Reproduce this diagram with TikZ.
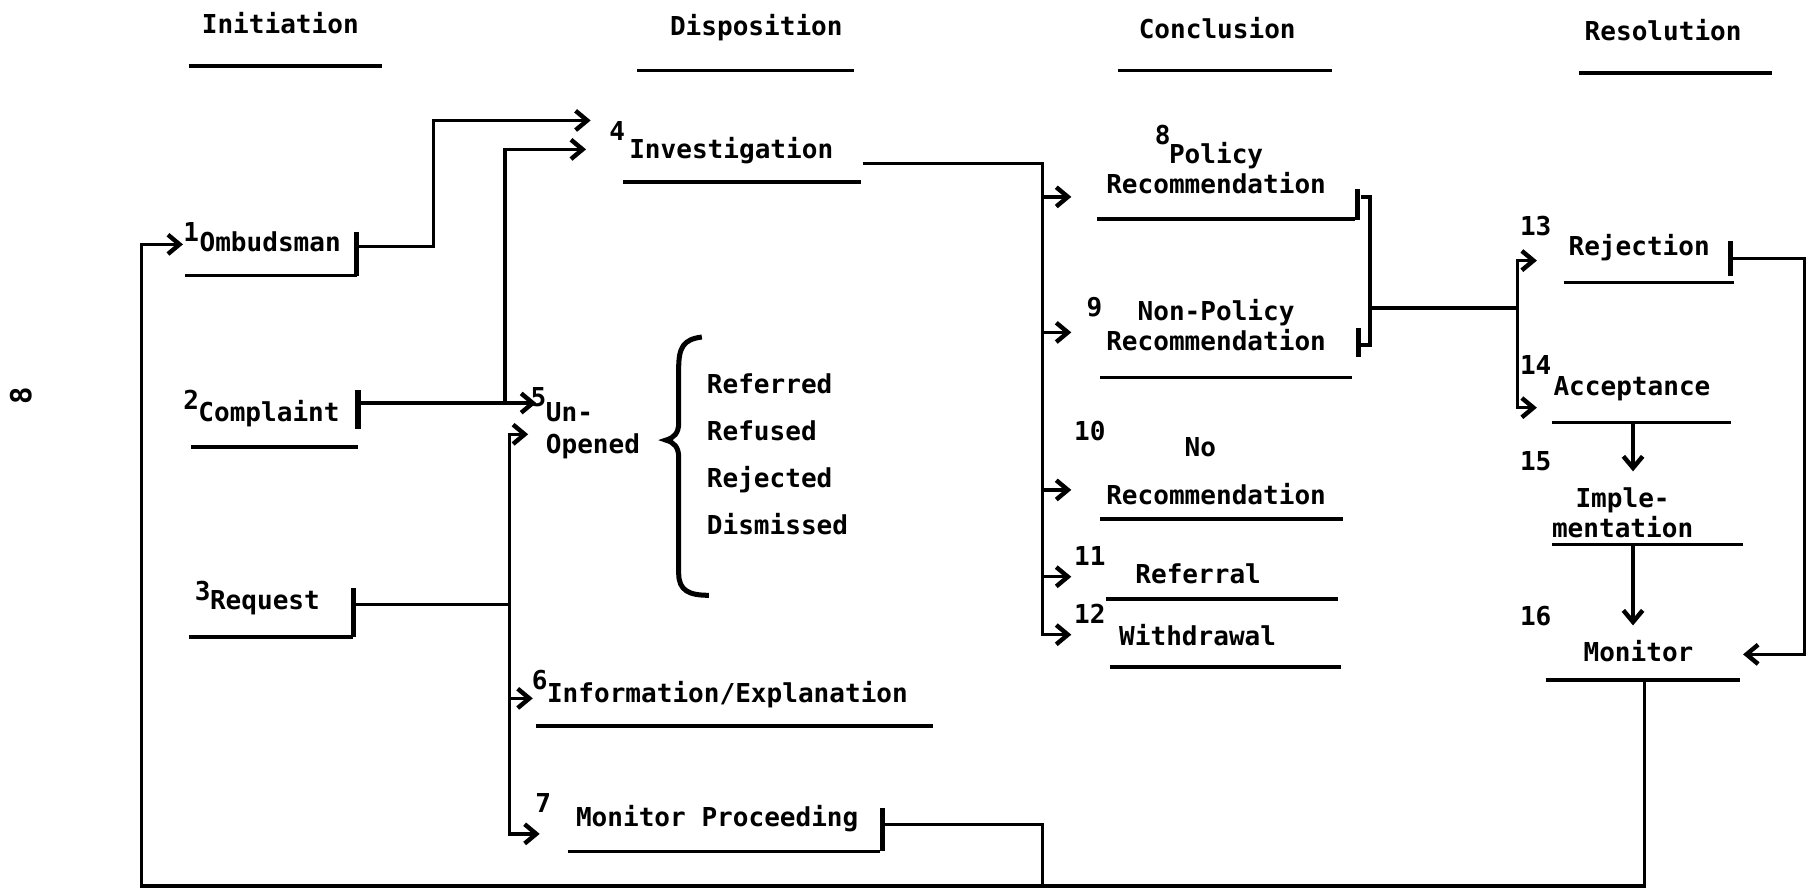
\documentclass[tikz,border=0pt]{standalone}
\usepackage{fontspec}
\setmainfont{DejaVu Sans Mono}
\usetikzlibrary{arrows.meta, positioning}

\tikzset{
  txt/.style={inner sep=0pt, font=\fontsize{13.5}{15.6}\selectfont\bfseries},
  uline/.style={line width=1.8pt},
  bar/.style={line width=2.8pt},
  link/.style={line width=1.7pt},
  tip/.style={link, -{Straight Barb[length=6pt,width=10pt,line width=2.3pt]}},
}

\begin{document}
\begin{tikzpicture}[x=0.6pt, y=-0.6pt]
\useasboundingbox (0,0) rectangle (1568,769);

% column heads
\foreach \X/\x/\y/\a/\b in {Initiation/242/20/163/330, Disposition/653/24/550/737,
  Conclusion/1051/24/965/1150, Resolution/1436/26/1363/1530} {
  \node[txt] (h\X) at (\x,\y) {\X};
  \draw[uline] (\a,\y+37) -- (\b,\y+37);
}

% case numbers
\foreach \n/\x/\y in {1/165/200, 2/165/345, 3/175/510, 4/533/113, 5/465/343, 6/466/587,
  7/469/693, 8/1004/117, 9/945/265, 10/941/372, 11/941/480, 12/941/530,
  13/1326/195, 14/1326/315, 15/1326/398, 16/1326/532}
  \node[txt] (n\n) at (\x,\y) {\n};

% stages
\node[txt, anchor=west] (omb) at (172,209) {Ombudsman};
\node[txt, anchor=west] (cmp) at (171,357) {Complaint};
\node[txt, anchor=west] (req) at (181,520) {Request};
\node[txt, anchor=west] (inv) at (543,130) {Investigation};
\node[txt, anchor=west, align=left, font=\fontsize{13.5}{16.8}\selectfont\bfseries] (uno) at (471,372) {Un-\\Opened};
\node[txt, anchor=west, align=left, font=\fontsize{13.5}{24.4}\selectfont\bfseries] (why) at (610,392)
  {Referred\\Refused\\Rejected\\Dismissed};
\node[txt, anchor=west] (inf) at (472,600) {Information/Explanation};
\node[txt, anchor=west] (mpr) at (497,707) {Monitor Proceeding};
\node[txt, align=center] (pol) at (1050,145) {Policy\\Recommendation};
\node[txt, align=center] (npo) at (1050,281) {Non-Policy\\Recommendation};
\node[txt, align=center, font=\fontsize{13.5}{24.6}\selectfont\bfseries] (nor) at (1050,407)
  {No\hphantom{No}\\Recommendation};
\node[txt, anchor=west] (rfl) at (980,495) {Referral};
\node[txt, anchor=west] (wdr) at (966,548) {Withdrawal};
\node[txt, anchor=west] (rej) at (1354,214) {Rejection};
\node[txt, anchor=west] (acc) at (1341,336) {Acceptance};
\node[txt, align=center] (imp) at (1401,443) {Imple-\\mentation};
\node[txt, anchor=west] (mon) at (1367,562) {Monitor};
\node[txt, rotate=90, font=\fontsize{15}{15}\selectfont\bfseries] (pg) at (18,342) {8};

% underlines and end bars
\foreach \a/\b/\y in {160/308/238, 165/309/386, 163/305/550, 538/743/157, 463/806/627,
  490/760/735, 947/1170/189, 950/1167/326, 950/1160/448, 955/1155/517, 958/1158/576,
  1350/1497/244, 1340/1495/365, 1340/1505/470, 1335/1502/587}
  \draw[uline] (\a,\y) -- (\b,\y);
\foreach \x/\a/\b in {308/200/238, 309/337/370, 305/508/550, 762/698/735,
  1172/163/190, 1173/283/308, 1494/208/238}
  \draw[bar] (\x,\a) -- (\x,\b);

% brace
\draw[line width=2.6pt] (606,291) .. controls (590,293) and (586,300) .. (586,318) -- (586,365)
  .. controls (586,374) and (582,378) .. (575,380) .. controls (582,382) and (586,386) .. (586,395)
  -- (586,495) .. controls (586,510) and (595,514) .. (612,514);

% ends of the connectors
\coordinate (ombR) at (308,213);  \coordinate (ombA) at (158,211);
\coordinate (cmpR) at (309,348);  \coordinate (reqR) at (305,522);
\coordinate (invR) at (745,141);  \coordinate (invA) at (510,104);
\coordinate (invB) at (506,129);  \coordinate (unoA) at (463,348);
\coordinate (unoB) at (456,375);  \coordinate (infA) at (460,603);
\coordinate (mprR) at (762,712);  \coordinate (mprA) at (466,720);
\coordinate (polA) at (925,170);  \coordinate (npoA) at (925,287);
\coordinate (norA) at (925,423);  \coordinate (rflA) at (925,498);
\coordinate (wdrA) at (925,548);  \coordinate (polR) at (1175,170);
\coordinate (npoR) at (1175,298); \coordinate (brk) at (1183,266);
\coordinate (rejA) at (1327,225); \coordinate (accA) at (1327,352);
\coordinate (rejR) at (1494,223); \coordinate (monA) at (1505,565);
\coordinate (accD) at (1410,365); \coordinate (impA) at (1410,407);
\coordinate (impD) at (1410,470); \coordinate (monT) at (1410,540);
\coordinate (monB) at (1420,587); \coordinate (loop) at (122,765);
\coordinate (dspine) at (436,0);  \coordinate (lspine) at (440,0);
\coordinate (cspine) at (900,0);  \coordinate (rspine) at (1310,0);

% initiation to disposition
\draw[tip] (ombR) -- ++(66,0) |- (invA);
\draw[tip] (cmpR) -- (unoA);
\draw[tip] (cmpR -| dspine) |- (invB);
\draw[link] (reqR) -- (reqR -| lspine);
\draw[tip] (reqR -| lspine) |- (unoB);
\draw[tip] (reqR -| lspine) |- (mprA);
\draw[tip] (infA -| lspine) -- (infA);

% disposition to conclusion
\draw[tip] (invR) -| (cspine |- wdrA) -- (wdrA);
\foreach \t in {polA, npoA, norA, rflA}
  \draw[tip] (\t -| cspine) -- (\t);
\draw[link] (mprR) -| (cspine |- loop);

% conclusion to resolution
\draw[link] (polR) -- ++(8,0) |- (npoR);
\draw[link] (brk) -- (brk -| rspine);
\draw[tip] (brk -| rspine) |- (rejA);
\draw[tip] (brk -| rspine) |- (accA);
\draw[tip] (rejR) -- ++(64,0) |- (monA);
\draw[tip] (accD) -- (impA);
\draw[tip] (impD) -- (monT);

% back to the start
\draw[tip] (monB) |- (loop) |- (ombA);
\end{tikzpicture}
\end{document}
